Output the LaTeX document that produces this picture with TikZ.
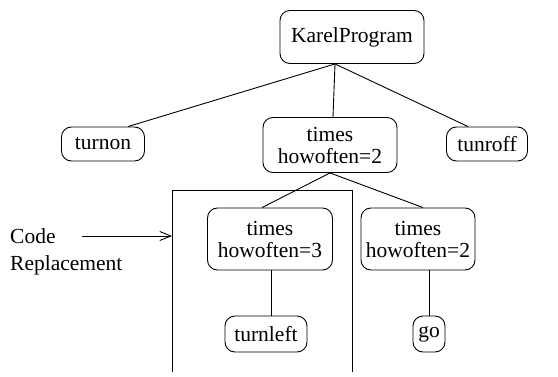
\documentclass[tikz,border=0pt]{standalone}
\usepackage{fontspec}
\setmainfont{Liberation Serif}
\usetikzlibrary{arrows.meta}
\begin{document}
\begin{tikzpicture}[x=1pt,y=-1pt,
  treebox/.style={draw,rounded corners=10pt,line width=0.9pt,inner sep=0pt,
    align=center,font=\fontsize{21.5}{22}\selectfont},
  edge/.style={line width=0.9pt},
  label/.style={anchor=west,inner sep=0pt,font=\fontsize{21.5}{27}\selectfont,align=left}]
\useasboundingbox (0,0) rectangle (558,377);
% tree nodes
\node[treebox,minimum width=144pt,minimum height=53pt] (karel) at (352,37) {KarelProgram};
\node[treebox,minimum width=83pt,minimum height=34pt] (turnon) at (103,144) {turnon};
\node[treebox,minimum width=134pt,minimum height=55pt] (times2) at (330,145) {times\\howoften=2};
\node[treebox,minimum width=81pt,minimum height=34pt] (tunroff) at (487,144) {tunroff};
\node[treebox,minimum width=125pt,minimum height=62pt] (times3) at (270,239) {times\\howoften=3};
\node[treebox,minimum width=114pt,minimum height=62pt] (times2b) at (418,239) {times\\howoften=2};
\node[treebox,minimum width=82pt,minimum height=36pt] (turnleft) at (266,334) {turnleft};
\node[treebox,minimum width=32pt,minimum height=36pt] (go) at (429,334) {go};
% replacement frame, open at the bottom
\coordinate (fbl) at (172,372);
\coordinate (ftl) at (172,190);
\coordinate (ftr) at (352,190);
\coordinate (fbr) at (352,372);
\draw[edge] (fbl) -- (ftl) -- (ftr) -- (fbr);
% label and arrow
\node[label] (code) at (10,252) {Code\\Replacement};
\coordinate (arrstart) at (82,236);
\draw[edge,-{Straight Barb[length=11pt,width=9pt,line width=0.9pt]}] (arrstart) -- (ftl |- arrstart);
% connectors
\coordinate (kb) at ([xshift=-17pt]karel.south);
\draw[edge] (kb) -- ([xshift=25pt]turnon.north);
\draw[edge] (kb) -- ([xshift=3pt]times2.north);
\draw[edge] (kb) -- ([xshift=-19pt]tunroff.north);
\draw[edge] (times2.south) -- ([xshift=-8pt]times3.north);
\draw[edge] (times2.south) -- ([xshift=5pt]times2b.north);
\draw[edge] ([xshift=1pt]times3.south) -- ([xshift=5pt]turnleft.north);
\draw[edge] (times2b.south -| go.north) -- (go.north);
\end{tikzpicture}
\end{document}
